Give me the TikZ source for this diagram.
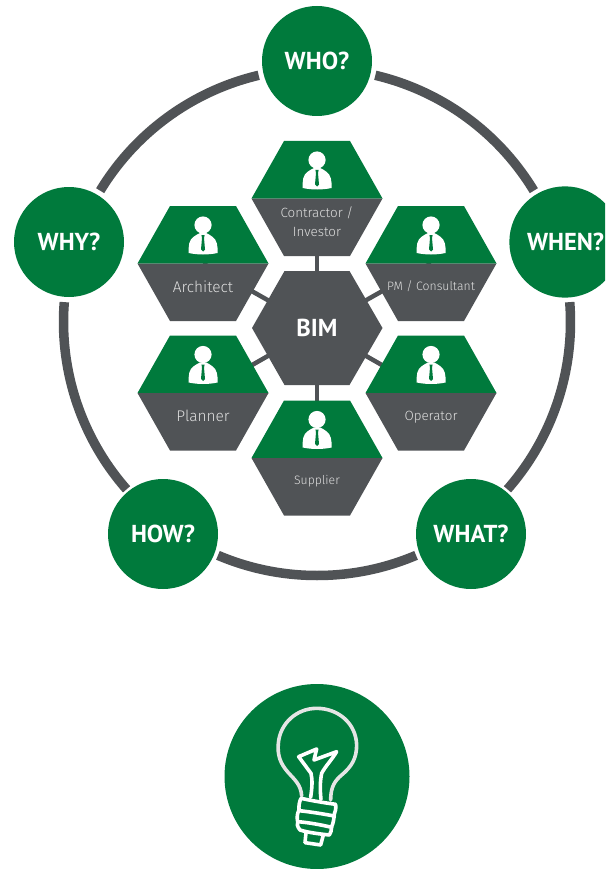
\documentclass[tikz,border=0pt]{standalone}
\usepackage{fontspec}
\setmainfont{PT Sans}
\newfontfamily\lightf{Fira Sans Light}
\definecolor{bimgreen}{HTML}{007A3C}
\definecolor{bimgrey}{HTML}{505356}
\definecolor{bimtext}{HTML}{DEDEDE}
\tikzset{
  qcircle/.style={circle,fill=bimgreen,minimum size=110pt,inner sep=0pt,text=white,font=\bfseries\fontsize{24.5}{24.5}\selectfont},
  ringarc/.style={draw=bimgrey,line width=9.5pt,line cap=butt},
  linkline/.style={draw=bimgrey,line width=4.5pt},
  hexlabel/.style={text=bimtext,align=center,inner sep=0pt,font=\lightf},
  bulbline/.style={draw=white,line width=3.6pt,line join=round,line cap=round}
}
% #1 name, #2 x, #3 y, #4 label text, #5 font size, #6 label offset
\newcommand{\personhex}[6]{%
  \coordinate (#1) at (#2,#3);
  \begin{scope}[shift={(#2,#3)}]
    \fill[bimgreen] (-65.5,0) -- (-33,-57.5) -- (33,-57.5) -- (65.5,0) -- cycle;
    \fill[bimgrey] (-65.5,0) -- (-33,57.5) -- (33,57.5) -- (65.5,0) -- cycle;
    \fill[white] (0,-38.5) circle (8.6);
    \fill[white] (-14.3,-10.5) .. controls (-14.6,-17) and (-14.3,-24) .. (-9,-27)
       .. controls (-7,-28.5) and (-5,-29.5) .. (-3,-30.5) -- (3,-30.5)
       .. controls (5,-29.5) and (7.5,-28.5) .. (9,-27)
       .. controls (14.3,-24) and (14.8,-17) .. (14.6,-10.5)
       .. controls (5,-8.5) and (-5,-8.5) .. (-14.3,-10.5) -- cycle;
    \fill[bimgreen] (-1.6,-28.5) -- (1.6,-28.5) -- (1,-25.5) -- (2,-14) -- (0,-12) -- (-2,-14) -- (-1,-25.5) -- cycle;
    \node[hexlabel,font=\lightf\fontsize{#5}{19}\selectfont] (#1label) at (0,#6) {#4};
  \end{scope}}
\begin{document}
\begin{tikzpicture}[x=1pt,y=-1pt]
\useasboundingbox (0,0) rectangle (605,869);
\clip (0,0) rectangle (605,869);
% ring
\coordinate (ringc) at (317,322);
\foreach \a/\b in {-76.7/-31.2,-4.5/41.3,67/113,138.7/184.5,211.2/256.7}{
  \draw[ringarc] ([shift={(\a:253.5)}]ringc) arc (\a:\b:253.5);
}
% outer questions
\node[qcircle] (who) at (317,61) {WHO?};
\node[qcircle,text width=110pt,align=left] (when) at (565,242) {\hspace*{17pt}WHEN?};
\node[qcircle] (what) at (471,534) {WHAT?};
\node[qcircle] (how) at (163,534) {HOW?};
\node[qcircle] (why) at (69,242) {WHY?};
% links (drawn below the hexagons)
\coordinate (bimc) at (317,328);
\coordinate (contractorc) at (317,198.5);
\coordinate (architectc) at (203,263.5);
\coordinate (plannerc) at (203,393);
\coordinate (pmc) at (431,263.5);
\coordinate (operatorc) at (431,393);
\coordinate (supplierc) at (317,458);
\foreach \n in {contractorc,architectc,plannerc,pmc,operatorc,supplierc}{
  \draw[linkline] (bimc) -- (\n);
}
% hexagons
\personhex{contractor}{317}{198.5}{Contractor /\\Investor}{13.4}{23.5}
\personhex{architect}{203}{263.5}{Architect}{15.4}{23}
\personhex{planner}{203}{393}{Planner}{15.4}{23}
\personhex{pm}{431}{263.5}{PM / Consultant}{12.2}{23}
\personhex{operator}{431}{393}{Operator}{13.4}{24}
\personhex{supplier}{317}{458}{Supplier}{12.2}{23.5}
\fill[bimgrey] (252,328) -- (284.5,271) -- (349.5,271) -- (382.5,328) -- (349.5,385) -- (284.5,385) -- cycle;
\node[text=white,inner sep=0pt,font=\bfseries\fontsize{24.5}{24.5}\selectfont] (bim) at (317,328) {BIM};
% lightbulb
\node[circle,fill=bimgreen,minimum size=185pt,inner sep=0pt] (idea) at (317,776.5) {};
\begin{scope}[shift={(220,680)},x=0.3333pt,y=-0.3333pt]
  \draw[bulbline,draw=white!90!black] (245,348) .. controls (243,315) and (225,300) .. (205,278)
     .. controls (180,250) and (172,225) .. (175,190)
     .. controls (180,130) and (230,85) .. (290,85)
     .. controls (355,85) and (408,130) .. (410,195)
     .. controls (410,235) and (395,260) .. (365,285)
     .. controls (345,302) and (332,320) .. (332,360);
  \draw[bulbline] (272,352) .. controls (276,325) and (278,300) .. (273,280)
     -- (236,230) -- (290,207) -- (282,240) -- (350,215)
     .. controls (335,240) and (315,260) .. (305,280)
     .. controls (300,305) and (300,330) .. (303,358);
  \draw[bulbline] (243,355) .. controls (275,362) and (310,368) .. (347,373)
     .. controls (348,385) and (347,395) .. (343,402)
     .. controls (342,415) and (340,430) .. (335,440)
     .. controls (335,450) and (332,460) .. (328,465)
     .. controls (300,462) and (265,458) .. (240,450)
     .. controls (232,440) and (230,432) .. (233,425)
     .. controls (230,412) and (232,400) .. (237,390)
     .. controls (236,378) and (238,365) .. (243,355) -- cycle;
  \draw[bulbline] (237,392) .. controls (275,396) and (310,402) .. (343,408);
  \draw[bulbline] (233,425) .. controls (270,428) and (305,435) .. (335,442);
  \draw[bulbline] (258,458) -- (255,488) -- (302,495) -- (310,465);
\end{scope}
\end{tikzpicture}
\end{document}
